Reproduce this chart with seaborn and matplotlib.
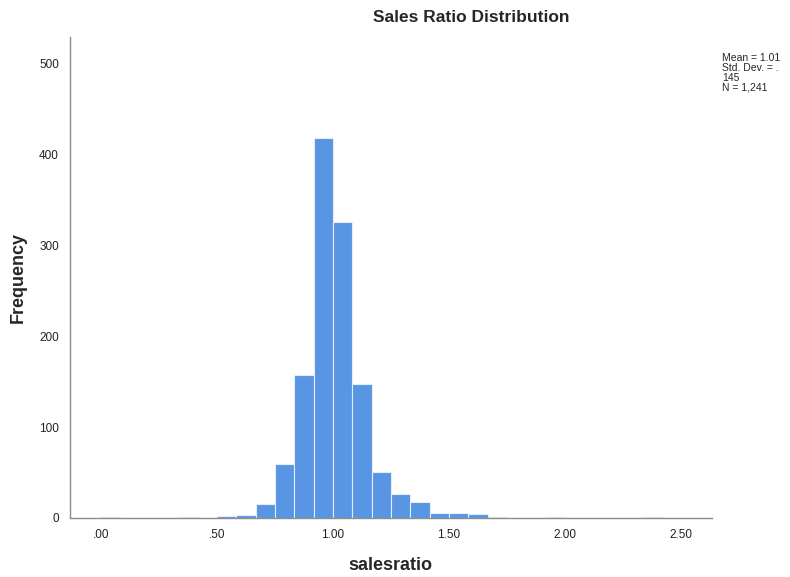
import numpy as np
import pandas as pd
import matplotlib
matplotlib.use("Agg")
import matplotlib.pyplot as plt
import seaborn as sns

# Histogram counts, 30 bins of width 1/12 from 0 to 2.5
bin_lo = 0.0
bin_hi = 2.5
counts = [1, 0, 0, 0, 1, 0, 2, 3, 15, 59, 157, 418, 325, 147, 51,
          26, 18, 5, 6, 4, 1, 0, 0, 1, 0, 0, 0, 0, 1, 0]
x_ticks = [0.0, 0.5, 1.0, 1.5, 2.0, 2.5]
x_tick_labels = [".00", ".50", "1.00", "1.50", "2.00", "2.50"]
y_ticks = [0, 100, 200, 300, 400, 500]
stats_lines = ["Mean = 1.01", "Std. Dev. = .", "145", "N = 1,241"]

sns.set_style("white")
plt.rcParams["font.family"] = ["Liberation Sans", "DejaVu Sans"]

edges = np.linspace(bin_lo, bin_hi, len(counts) + 1)
df = pd.DataFrame({"salesratio": (edges[:-1] + edges[1:]) / 2, "n": counts})

fig = plt.figure(figsize=(7.9, 5.77), dpi=100)
ax = fig.add_axes([0.0886, 0.1023, 0.8127, 0.8336])

sns.histplot(data=df, x="salesratio", weights="n",
             binwidth=(bin_hi - bin_lo) / len(counts),
             binrange=(bin_lo, bin_hi), ax=ax,
             color="#5895e3", edgecolor="#e6eefa", linewidth=0.8, alpha=1)

ax.set_xlim(-0.134, 2.634)
ax.set_ylim(0, 529)
ax.set_xticks(x_ticks)
ax.set_xticklabels(x_tick_labels)
ax.set_yticks(y_ticks)
ax.tick_params(axis="both", length=0, labelsize=8.5, colors="#222222", pad=8)

for side in ["top", "right"]:
    ax.spines[side].set_visible(False)
for side in ["left", "bottom"]:
    ax.spines[side].set_color("#8c8c8c")
    ax.spines[side].set_linewidth(1)

ax.set_xlabel("salesratio", fontsize=13, fontweight="bold", va="center")
ax.set_ylabel("Frequency", fontsize=13, fontweight="bold", va="center")
ax.xaxis.set_label_coords((390 - 70) / 642, -(566 - 518) / 481)
ax.yaxis.set_label_coords(-(70 - 18) / 642, (518 - 278) / 481)

fig.text(471 / 790, 1 - 17 / 577, "Sales Ratio Distribution", ha="center",
         va="center", fontsize=12.5, fontweight="bold")
fig.text(722 / 790, 1 - 53 / 577, "\n".join(stats_lines), ha="left", va="top",
         fontsize=7.5, linespacing=1.0)

fig.savefig("out.png", dpi=100)
